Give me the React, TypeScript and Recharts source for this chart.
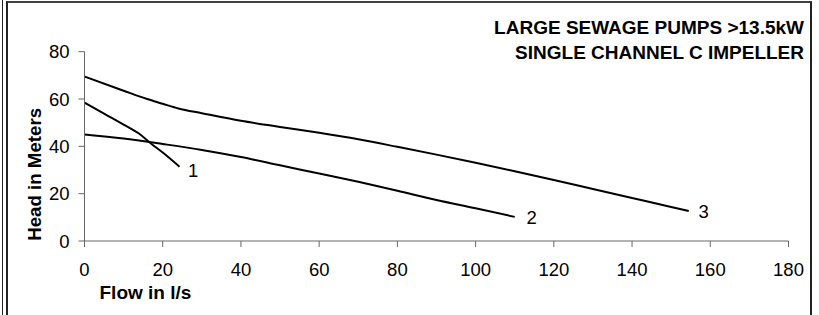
import { LineChart, Line, XAxis, YAxis, Label } from 'recharts';

// pump curves (flow in l/s, head in m)
const curve1Flow = [0, 5, 10, 14, 17, 20, 24.3];
const curve1Head = [58.5, 53.8, 49.2, 45.3, 41.2, 37.4, 31.4];

const curve2Flow = [0, 10, 20, 30, 40, 50, 60, 70, 80, 90, 100, 110];
const curve2Head = [45, 43.3, 41, 38.5, 35.5, 32, 28.5, 25, 21.2, 17.3, 13.8, 10.2];

const curve3Flow = [0, 10, 16, 20, 24, 30, 40, 50, 60, 70, 80, 90, 100, 110, 120, 130, 140, 150, 154.5];
const curve3Head = [69.5, 63.5, 60, 58, 56, 54, 50.8, 48.2, 45.7, 43, 39.8, 36.5, 33.1, 29.5, 25.8, 22, 18.2, 14.4, 12.7];

const curveNames = ['1', '2', '3'];
const flowTicks = [0, 20, 40, 60, 80, 100, 120, 140, 160, 180];
const headTicks = [0, 20, 40, 60, 80];

const titleLines = ['LARGE SEWAGE PUMPS >13.5kW', 'SINGLE CHANNEL C IMPELLER'];

const FONT = '"Liberation Sans", Arial, sans-serif';
const AXIS = '#666';

const toPoints = (flow: number[], head: number[]) =>
  flow.map((f, i) => ({ flow: f, head: head[i] }));

const series = [
  toPoints(curve1Flow, curve1Head),
  toPoints(curve2Flow, curve2Head),
  toPoints(curve3Flow, curve3Head),
];

const endLabel = (name: string, last: number, dx: number, dy: number) => (props: any) => {
  const { x, y, index } = props;
  if (index !== last) return null;
  return (
    <text
      x={x + dx}
      y={y + dy}
      dy="0.36em"
      textAnchor="middle"
      fontSize={18.5}
      fontFamily={FONT}
      fill="#000"
    >
      {name}
    </text>
  );
};

const labelOffsets = [
  [13.5, 3.5],
  [17, 0],
  [15, 0.5],
];

const YTitle = ({ viewBox }: any) => {
  const cx = viewBox.x + 9.5;
  const cy = viewBox.y + viewBox.height / 2 + 28;
  return (
    <text
      x={cx}
      y={cy}
      dy="0.36em"
      textAnchor="middle"
      transform={`rotate(-90 ${cx} ${cy})`}
      fontSize={18.7}
      fontWeight="bold"
      fontFamily={FONT}
      fill="#000"
    >
      Head in Meters
    </text>
  );
};

const XTitle = ({ viewBox }: any) => (
  <text
    x={viewBox.x + 15}
    y={viewBox.y + 58}
    fontSize={19}
    fontWeight="bold"
    fontFamily={FONT}
    fill="#000"
  >
    Flow in l/s
  </text>
);

export default function App() {
  return (
    <div
      style={{
        position: 'absolute',
        left: 0,
        top: 0,
        width: 819,
        height: 315,
        background: '#fff',
        overflow: 'hidden',
        fontFamily: FONT,
      }}
    >
      <div style={{ position: 'absolute', left: 2, top: 0, width: 1, height: 315, background: '#222' }} />
      <div
        style={{
          position: 'absolute',
          left: 6,
          top: 1,
          width: 806,
          height: 330,
          borderLeft: '2px solid #222',
          borderTop: '2px solid #404040',
          borderRight: '2px solid #222',
          boxSizing: 'border-box',
        }}
      />
      <div
        style={{
          position: 'absolute',
          right: 15,
          top: 15,
          textAlign: 'right',
          fontWeight: 'bold',
          fontSize: 19,
          lineHeight: '25px',
          color: '#000',
          whiteSpace: 'nowrap',
        }}
      >
        {titleLines.map(t => (
          <div key={t}>{t}</div>
        ))}
      </div>
      <div style={{ position: 'absolute', left: 0, top: 0 }}>
        <LineChart
          width={819}
          height={315}
          margin={{ top: 51.7, right: 30.5, bottom: 44, left: 24.5 }}
        >
          <XAxis
            type="number"
            dataKey="flow"
            domain={[0, 180]}
            ticks={flowTicks}
            allowDataOverflow
            height={30}
            stroke={AXIS}
            tickSize={6}
            tickMargin={15.5}
            tick={{ fill: '#000', fontSize: 18.5, fontFamily: FONT }}
          >
            <Label content={<XTitle />} />
          </XAxis>
          <YAxis
            type="number"
            dataKey="head"
            domain={[0, 80]}
            ticks={headTicks}
            width={60}
            stroke={AXIS}
            tickSize={6}
            tickMargin={9}
            tick={{ fill: '#000', fontSize: 18.5, fontFamily: FONT }}
          >
            <Label content={<YTitle />} />
          </YAxis>
          {series.map((pts, i) => (
            <Line
              key={curveNames[i]}
              data={pts}
              dataKey="head"
              type="monotone"
              stroke="#000"
              strokeWidth={2}
              dot={false}
              activeDot={false}
              isAnimationActive={false}
              label={endLabel(curveNames[i], pts.length - 1, labelOffsets[i][0], labelOffsets[i][1])}
            />
          ))}
        </LineChart>
      </div>
    </div>
  );
}
